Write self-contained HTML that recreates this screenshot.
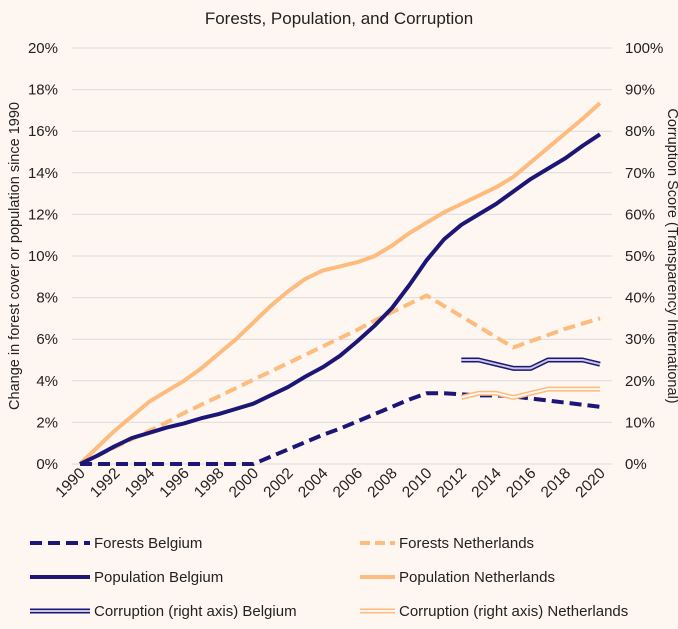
<!DOCTYPE html>
<html><head><meta charset="utf-8"><style>
body{margin:0;background:#fef6f1;}
svg{display:block;font-family:"Liberation Sans",sans-serif;}
</style></head><body>
<svg id="c" width="678" height="629">
<rect width="678" height="629" fill="#fef6f1"/>
<text x="339" y="24" text-anchor="middle" font-size="17" fill="#222">Forests, Population, and Corruption</text>
<g id="grid"></g><g id="axes"></g><g id="series"></g><g id="legend"></g>
<text transform="translate(19,256) rotate(-90)" text-anchor="middle" font-size="14.5" fill="#222">Change in forest cover or population since 1990</text>
<text transform="translate(668,256) rotate(90)" text-anchor="middle" font-size="14.5" fill="#222">Corruption Score (Transparency International)</text>
</svg>
<script>
const years=[1990,1991,1992,1993,1994,1995,1996,1997,1998,1999,2000,2001,2002,2003,2004,2005,2006,2007,2008,2009,2010,2011,2012,2013,2014,2015,2016,2017,2018,2019,2020];
const forestsBE=[0,0,0,0,0,0,0,0,0,0,0,0.35,0.7,1.05,1.4,1.7,2.05,2.4,2.75,3.1,3.4,3.4,3.35,3.3,3.3,3.25,3.15,3.05,2.95,2.85,2.75];
const forestsNL=[0,0.4,0.8,1.2,1.6,2.0,2.45,2.85,3.25,3.65,4.05,4.45,4.85,5.25,5.65,6.05,6.45,6.9,7.3,7.7,8.1,7.6,7.1,6.6,6.1,5.6,5.9,6.2,6.5,6.75,7.0];
const popBE=[0,0.4,0.85,1.25,1.5,1.75,1.95,2.2,2.4,2.65,2.9,3.3,3.7,4.2,4.65,5.2,5.9,6.65,7.5,8.6,9.8,10.8,11.5,12.0,12.5,13.1,13.7,14.2,14.7,15.3,15.85];
const popNL=[0,0.8,1.6,2.3,3.0,3.5,4.0,4.6,5.3,6.0,6.8,7.6,8.3,8.9,9.3,9.5,9.7,10.0,10.5,11.1,11.6,12.1,12.5,12.9,13.3,13.8,14.5,15.2,15.9,16.6,17.35];
const corrYears=[2012,2013,2014,2015,2016,2017,2018,2019,2020];
const corrBE=[25,25,24,23,23,25,25,25,24];
const corrNL=[16,17,17,16,17,18,18,18,18];
const leftTicks=[0,2,4,6,8,10,12,14,16,18,20];
const rightTicks=[0,10,20,30,40,50,60,70,80,90,100];
const xTicks=[1990,1992,1994,1996,1998,2000,2002,2004,2006,2008,2010,2012,2014,2016,2018,2020];
const NS="http://www.w3.org/2000/svg";
const X=y=>80+(y-1990)*(520/30);
const YL=v=>464-v*20.8;
const YR=v=>464-v*4.16;
function mk(t,a,p){const e=document.createElementNS(NS,t);for(const k in a)e.setAttribute(k,a[k]);p.appendChild(e);return e;}
const grid=document.getElementById('grid'),axes=document.getElementById('axes'),ser=document.getElementById('series'),leg=document.getElementById('legend');
leftTicks.forEach((v,i)=>{
 const l=mk('line',{x1:72,x2:612,y1:YL(v),y2:YL(v),stroke:'#dcdcdc','stroke-width':1},grid);
 
 
 const t=mk('text',{x:58,y:YL(v)+5,'text-anchor':'end','font-size':15,fill:'#222'},axes);t.textContent=v+'%';
 
 
});
rightTicks.forEach(v=>{
 const t=mk('text',{x:625,y:YR(v)+5,'font-size':15,fill:'#222'},axes);t.textContent=v+'%';
 
 
});
xTicks.forEach(y=>{
 const t=mk('text',{transform:`translate(${X(y)+6},${474}) rotate(-45)`,'text-anchor':'end','font-size':15.5,fill:'#222'},axes);t.textContent=y;
 
 
});
function pts(xs,vs,f){return xs.map((x,i)=>X(x)+','+f(vs[i])).join(' ');}
function line(xs,vs,f,col,w,dash,name){
 const p=mk('polyline',{points:pts(xs,vs,f),fill:'none',stroke:col,'stroke-width':w,'stroke-linejoin':'round'},ser);
 if(dash)p.setAttribute('stroke-dasharray',dash);
 
 
}
const NAVY='#1c1777',PEACH='#fdbb7d';
line(years,forestsNL,YL,PEACH,4,'12 6','forests-netherlands-line');
line(years,popNL,YL,PEACH,4,null,'population-netherlands-line');
line(years,forestsBE,YL,NAVY,4,'12 6','forests-belgium-line');
line(years,popBE,YL,NAVY,4,null,'population-belgium-line');
line(corrYears,corrBE,YR,NAVY,5,null,'corruption-belgium-outer');
line(corrYears,corrBE,YR,'#c8c6e0',2,null,'corruption-belgium-inner');
line(corrYears,corrNL,YR,PEACH,5,null,'corruption-netherlands-outer');
line(corrYears,corrNL,YR,'#fef6f1',2,null,'corruption-netherlands-inner');
const items=[
 [30,543,60,NAVY,'12 6',null,'Forests Belgium','legend-forests-belgium'],
 [360,543,35,PEACH,'10 5',null,'Forests Netherlands','legend-forests-netherlands'],
 [30,577,60,NAVY,null,null,'Population Belgium','legend-population-belgium'],
 [360,577,35,PEACH,null,null,'Population Netherlands','legend-population-netherlands'],
 [30,611,60,NAVY,null,'#c8c6e0','Corruption (right axis) Belgium','legend-corruption-belgium'],
 [360,611,35,PEACH,null,'#fef6f1','Corruption (right axis) Netherlands','legend-corruption-netherlands']];
items.forEach(([x,y,w,c,d,inner,txt,nm])=>{
 const g=mk('g',{},leg);
 
 
 const l=mk('line',{x1:x,x2:x+w,y1:y,y2:y,stroke:c,'stroke-width':inner?5:4},g);
 if(d)l.setAttribute('stroke-dasharray',d);
 if(inner)mk('line',{x1:x,x2:x+w,y1:y,y2:y,stroke:inner,'stroke-width':2},g);
 const t=mk('text',{x:x+w+4,y:y+5,'font-size':15,fill:'#222'},g);t.textContent=txt;
});
</script>
</body></html>
